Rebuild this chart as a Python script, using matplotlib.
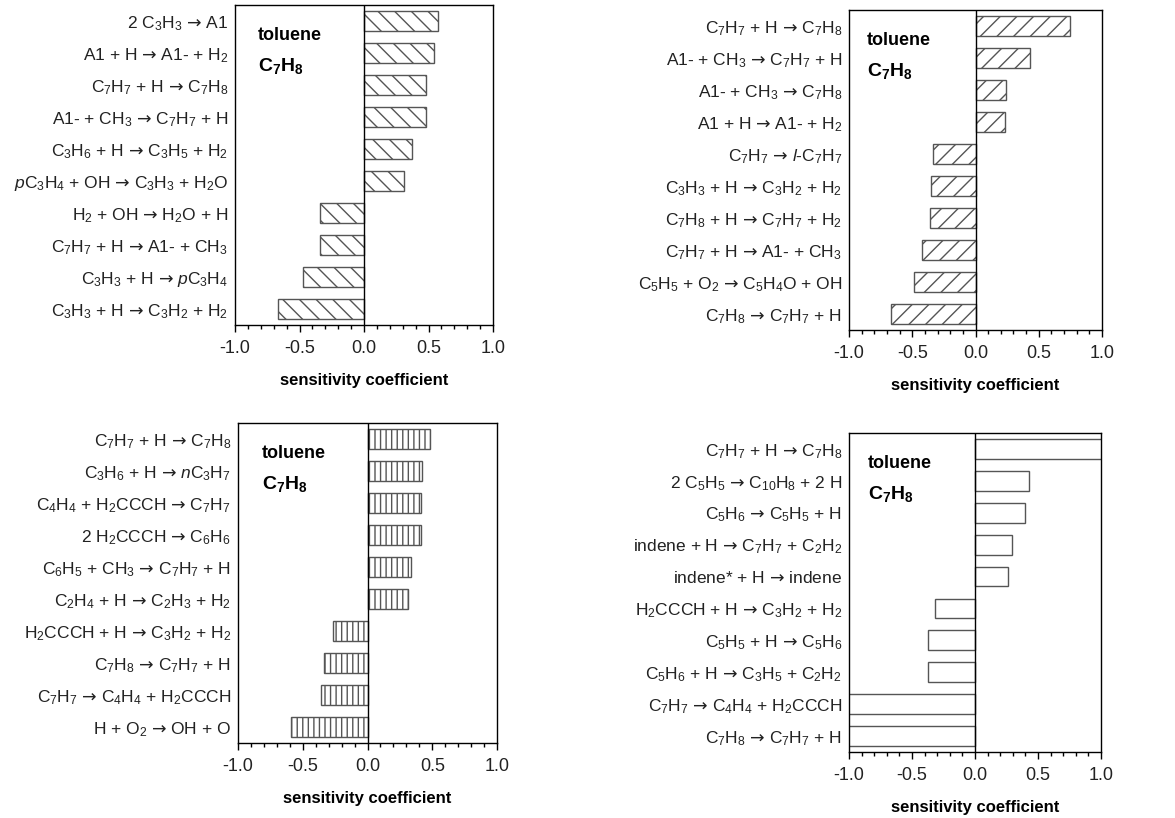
import matplotlib
matplotlib.use('Agg')
import matplotlib.pyplot as plt
from matplotlib.ticker import MultipleLocator

plt.rcParams['font.family'] = ['Liberation Sans', 'DejaVu Sans']
plt.rcParams['mathtext.fontset'] = 'custom'
plt.rcParams['mathtext.rm'] = 'Liberation Sans'
plt.rcParams['mathtext.it'] = 'Liberation Sans:italic'
plt.rcParams['mathtext.bf'] = 'Liberation Sans:bold'
plt.rcParams['mathtext.sf'] = 'DejaVu Sans'
plt.rcParams['hatch.linewidth'] = 1.0
plt.rcParams['hatch.color'] = '#555555'

A = r'$\mathsf{→}$'  # larger arrow glyph

# panel a (top left)
labels_a = [r'2 C$_3$H$_3$ ' + A + ' A1',
            r'A1 + H ' + A + r' A1- + H$_2$',
            r'C$_7$H$_7$ + H ' + A + r' C$_7$H$_8$',
            r'A1- + CH$_3$ ' + A + r' C$_7$H$_7$ + H',
            r'C$_3$H$_6$ + H ' + A + r' C$_3$H$_5$ + H$_2$',
            r'$\mathit{p}$C$_3$H$_4$ + OH ' + A + r' C$_3$H$_3$ + H$_2$O',
            r'H$_2$ + OH ' + A + r' H$_2$O + H',
            r'C$_7$H$_7$ + H ' + A + r' A1- + CH$_3$',
            r'C$_3$H$_3$ + H ' + A + r' $\mathit{p}$C$_3$H$_4$',
            r'C$_3$H$_3$ + H ' + A + r' C$_3$H$_2$ + H$_2$']
values_a = [0.57, 0.545, 0.48, 0.48, 0.37, 0.31, -0.34, -0.34, -0.47, -0.67]

# panel b (top right)
labels_b = [r'C$_7$H$_7$ + H ' + A + r' C$_7$H$_8$',
            r'A1- + CH$_3$ ' + A + r' C$_7$H$_7$ + H',
            r'A1- + CH$_3$ ' + A + r' C$_7$H$_8$',
            r'A1 + H ' + A + r' A1- + H$_2$',
            r'C$_7$H$_7$ ' + A + r' $\mathit{l}$-C$_7$H$_7$',
            r'C$_3$H$_3$ + H ' + A + r' C$_3$H$_2$ + H$_2$',
            r'C$_7$H$_8$ + H ' + A + r' C$_7$H$_7$ + H$_2$',
            r'C$_7$H$_7$ + H ' + A + r' A1- + CH$_3$',
            r'C$_5$H$_5$ + O$_2$ ' + A + r' C$_5$H$_4$O + OH',
            r'C$_7$H$_8$ ' + A + r' C$_7$H$_7$ + H']
values_b = [0.75, 0.43, 0.24, 0.23, -0.34, -0.35, -0.36, -0.42, -0.49, -0.67]

# panel c (bottom left)
labels_c = [r'C$_7$H$_7$ + H ' + A + r' C$_7$H$_8$',
            r'C$_3$H$_6$ + H ' + A + r' $\mathit{n}$C$_3$H$_7$',
            r'C$_4$H$_4$ + H$_2$CCCH ' + A + r' C$_7$H$_7$',
            r'2 H$_2$CCCH ' + A + r' C$_6$H$_6$',
            r'C$_6$H$_5$ + CH$_3$ ' + A + r' C$_7$H$_7$ + H',
            r'C$_2$H$_4$ + H ' + A + r' C$_2$H$_3$ + H$_2$',
            r'H$_2$CCCH + H ' + A + r' C$_3$H$_2$ + H$_2$',
            r'C$_7$H$_8$ ' + A + r' C$_7$H$_7$ + H',
            r'C$_7$H$_7$ ' + A + r' C$_4$H$_4$ + H$_2$CCCH',
            r'H + O$_2$ ' + A + r' OH + O']
values_c = [0.48, 0.42, 0.41, 0.41, 0.335, 0.31, -0.27, -0.335, -0.36, -0.59]

# panel d (bottom right)
labels_d = [r'C$_7$H$_7$ + H ' + A + r' C$_7$H$_8$',
            r'2 C$_5$H$_5$ ' + A + r' C$_{10}$H$_8$ + 2 H',
            r'C$_5$H$_6$ ' + A + r' C$_5$H$_5$ + H',
            r'indene + H ' + A + r' C$_7$H$_7$ + C$_2$H$_2$',
            r'indene* + H ' + A + ' indene',
            r'H$_2$CCCH + H ' + A + r' C$_3$H$_2$ + H$_2$',
            r'C$_5$H$_5$ + H ' + A + r' C$_5$H$_6$',
            r'C$_5$H$_6$ + H ' + A + r' C$_3$H$_5$ + C$_2$H$_2$',
            r'C$_7$H$_7$ ' + A + r' C$_4$H$_4$ + H$_2$CCCH',
            r'C$_7$H$_8$ ' + A + r' C$_7$H$_7$ + H']
values_d = [1.3, 0.43, 0.395, 0.29, 0.26, -0.32, -0.37, -0.37, -1.3, -1.3]


def draw_panel(ax, labels, values, hatch, text_x):
    """
    Draw one horizontal sensitivity bar chart.
    """
    pos = list(range(len(labels)))
    ax.barh(pos, values, height=0.62, color='white', edgecolor='#555555',
            linewidth=1.0, hatch=hatch, zorder=2)
    ax.axvline(0, color='black', linewidth=1.0, zorder=3)
    ax.set_xlim(-1.0, 1.0)
    ax.set_ylim(len(labels) - 0.5, -0.5)
    ax.set_yticks(pos)
    ax.set_yticklabels(labels, fontsize=12.5, color='#222222')
    ax.tick_params(axis='y', length=0, pad=5)
    ax.xaxis.set_minor_locator(MultipleLocator(0.1))
    ax.set_xticks([-1.0, -0.5, 0.0, 0.5, 1.0])
    ax.set_xticklabels(['-1.0', '-0.5', '0.0', '0.5', '1.0'], fontsize=13, color='#222222')
    ax.tick_params(axis='x', which='major', direction='out', length=5, width=1, pad=6)
    ax.tick_params(axis='x', which='minor', direction='out', length=3, width=1)
    for sp in ax.spines.values():
        sp.set_linewidth(1.0)
    ax.set_xlabel('sensitivity coefficient', fontsize=12, fontweight='bold', labelpad=11)
    ax.text(text_x, 0.905, 'toluene', transform=ax.transAxes, fontsize=13,
            fontweight='bold', va='center', ha='left')
    ax.text(text_x, 0.81, r'$\mathbf{C_7H_8}$', transform=ax.transAxes, fontsize=14,
            va='center', ha='left')


fig = plt.figure(figsize=(11.75, 8.18), dpi=100)
ax_a = fig.add_axes([0.200, 0.6027, 0.2196, 0.391])
ax_b = fig.add_axes([0.7226, 0.5966, 0.2153, 0.391])
ax_c = fig.add_axes([0.2026, 0.0917, 0.2204, 0.391])
ax_d = fig.add_axes([0.7226, 0.0807, 0.2145, 0.390])

draw_panel(ax_a, labels_a, values_a, '\\\\', 0.09)
draw_panel(ax_b, labels_b, values_b, '//', 0.07)
draw_panel(ax_c, labels_c, values_c, '|||', 0.093)
draw_panel(ax_d, labels_d, values_d, None, 0.075)

fig.savefig('out.png', dpi=100)
plt.close(fig)
